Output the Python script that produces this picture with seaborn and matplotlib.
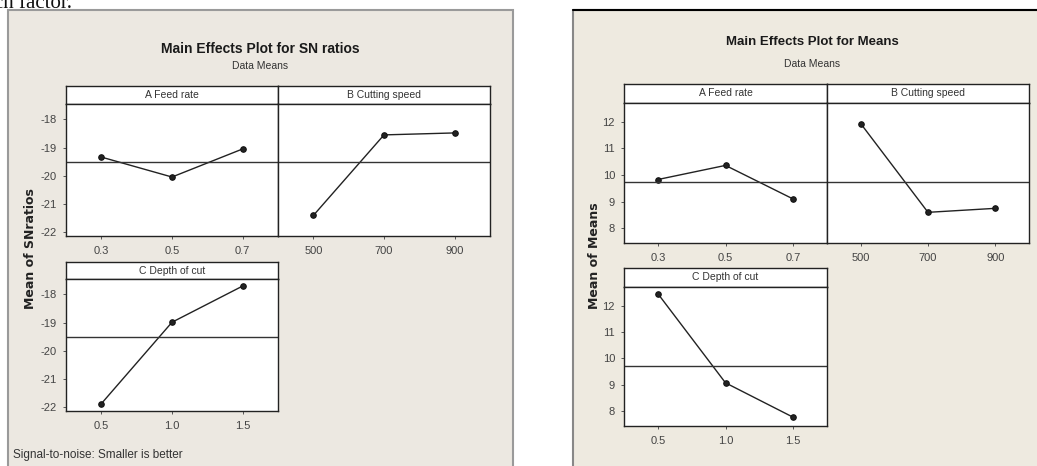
import matplotlib
matplotlib.use('Agg')
import matplotlib.pyplot as plt
import seaborn as sns
import pandas as pd
from matplotlib.patches import Rectangle

# factor levels (tick labels)
levels_a = ['0.3', '0.5', '0.7']
levels_b = ['500', '700', '900']
levels_c = ['0.5', '1.0', '1.5']
factor_names = ['A Feed rate', 'B Cutting speed', 'C Depth of cut']

# SN ratio means per level
sn_a = [-19.34, -20.05, -19.05]
sn_b = [-21.42, -18.55, -18.48]
sn_c = [-21.89, -18.99, -17.70]
sn_grand = -19.50
sn_yticks = [-18, -19, -20, -21, -22]

# data means per level
mean_a = [9.83, 10.36, 9.10]
mean_b = [11.93, 8.60, 8.75]
mean_c = [12.45, 9.08, 7.78]
means_grand = 9.72
means_yticks = [12, 11, 10, 9, 8]

sns.set_style('white')
plt.rcParams['font.family'] = ['Liberation Sans Narrow', 'Liberation Sans', 'DejaVu Sans']
plt.rcParams['axes.unicode_minus'] = False

W, H = 1037, 466
fig = plt.figure(figsize=(W / 100, H / 100), dpi=100)
fig.patch.set_facecolor('white')


def box(x0, y0, x1, y1):
    # pixel box (top-left origin) -> figure axes
    return fig.add_axes([x0 / W, 1 - y1 / H, (x1 - x0) / W, (y1 - y0) / H])


def bg(x0, y0, x1, y1, face, edge):
    fig.add_artist(Rectangle((x0 / W, 1 - y1 / H), (x1 - x0) / W, (y1 - y0) / H,
                             transform=fig.transFigure, facecolor=face,
                             edgecolor=edge, linewidth=1.5, zorder=0))


def strip(x0, y0, x1, y1, name):
    ax = box(x0, y0, x1, y1)
    ax.set_xticks([])
    ax.set_yticks([])
    ax.set_facecolor('white')
    for s in ax.spines.values():
        s.set_color('#222222')
        s.set_linewidth(1)
    ax.text(0.5, 0.5, name, ha='center', va='center', fontsize=7.5,
            color='#333333', transform=ax.transAxes)


def panel(x0, y0, x1, y1, levels, values, grand, ylim, yticks, show_y):
    ax = box(x0, y0, x1, y1)
    df = pd.DataFrame({'level': levels, 'value': values})
    sns.lineplot(data=df, x='level', y='value', marker='o', color='#222222',
                 linewidth=1, markersize=4, markeredgecolor='#111111',
                 sort=False, ax=ax)
    ax.axhline(grand, color='#333333', linewidth=1)
    ax.set_xlim(-0.5, len(levels) - 0.5)
    ax.set_ylim(*ylim)
    ax.set_yticks(yticks)
    ax.set_xlabel('')
    ax.set_ylabel('')
    ax.set_facecolor('white')
    for s in ax.spines.values():
        s.set_color('#222222')
        s.set_linewidth(1)
    ax.tick_params(axis='both', direction='out', length=2.5, width=0.7,
                   color='#555555', labelsize=8, labelcolor='#444444', pad=4)
    ax.tick_params(axis='x', pad=5)
    ax.tick_params(left=True, bottom=True)
    if not show_y:
        ax.tick_params(axis='y', left=False, labelleft=False)
    return ax


# partial document text cut at the top
fig.text(-6 / W, 1 - 8 / H, 'ch factor.', family=['Liberation Serif', 'DejaVu Serif'],
         fontsize=15, va='baseline', ha='left', color='#111111')

# ---------------- left chart: SN ratios ----------------
bg(8, 10, 513, 470, '#ECE8E1', '#9A9A9A')
fig.text(260 / W, 1 - 49 / H, 'Main Effects Plot for SN ratios', ha='center', va='center',
         fontsize=10, fontweight='bold', color='#1a1a1a')
fig.text(260 / W, 1 - 66 / H, 'Data Means', ha='center', va='center', fontsize=7.5,
         color='#333333')

sn_ylim = (-22.15, -17.45)
strip(66, 86, 278, 104, factor_names[0])
strip(278, 86, 490, 104, factor_names[1])
panel(66, 104, 278, 236, levels_a, sn_a, sn_grand, sn_ylim, sn_yticks, True)
panel(278, 104, 490, 236, levels_b, sn_b, sn_grand, sn_ylim, sn_yticks, False)
strip(66, 262, 278, 279, factor_names[2])
panel(66, 279, 278, 411, levels_c, sn_c, sn_grand, sn_ylim, sn_yticks, True)

fig.text(30 / W, 1 - 249 / H, 'Mean of SNratios', rotation=90, ha='center', va='center',
         fontsize=9, fontweight='bold', family=['DejaVu Sans'], color='#222222')
fig.text(13 / W, 1 - 455 / H, 'Signal-to-noise: Smaller is better', ha='left', va='center',
         fontsize=8.5, color='#333333')

# ---------------- right chart: Means ----------------
bg(573, 10, 1045, 470, '#EEEAE0', '#888888')
fig.add_artist(plt.Line2D([573 / W, 1], [1 - 10 / H, 1 - 10 / H], transform=fig.transFigure,
                          color='black', linewidth=1.5))
fig.text(812 / W, 1 - 42 / H, 'Main Effects Plot for Means', ha='center', va='center',
         fontsize=9.5, fontweight='bold', color='#1a1a1a')
fig.text(812 / W, 1 - 64 / H, 'Data Means', ha='center', va='center', fontsize=7.5,
         color='#333333')

means_ylim = (7.45, 12.7)
strip(624, 84, 827, 103, factor_names[0])
strip(827, 84, 1029, 103, factor_names[1])
panel(624, 103, 827, 243, levels_a, mean_a, means_grand, means_ylim, means_yticks, True)
panel(827, 103, 1029, 243, levels_b, mean_b, means_grand, means_ylim, means_yticks, False)
strip(624, 268, 827, 287, factor_names[2])
panel(624, 287, 827, 426, levels_c, mean_c, means_grand, means_ylim, means_yticks, True)

fig.text(595 / W, 1 - 256 / H, 'Mean of Means', rotation=90, ha='center', va='center',
         fontsize=9, fontweight='bold', family=['DejaVu Sans'], color='#222222')

fig.savefig('out.png', dpi=100)
